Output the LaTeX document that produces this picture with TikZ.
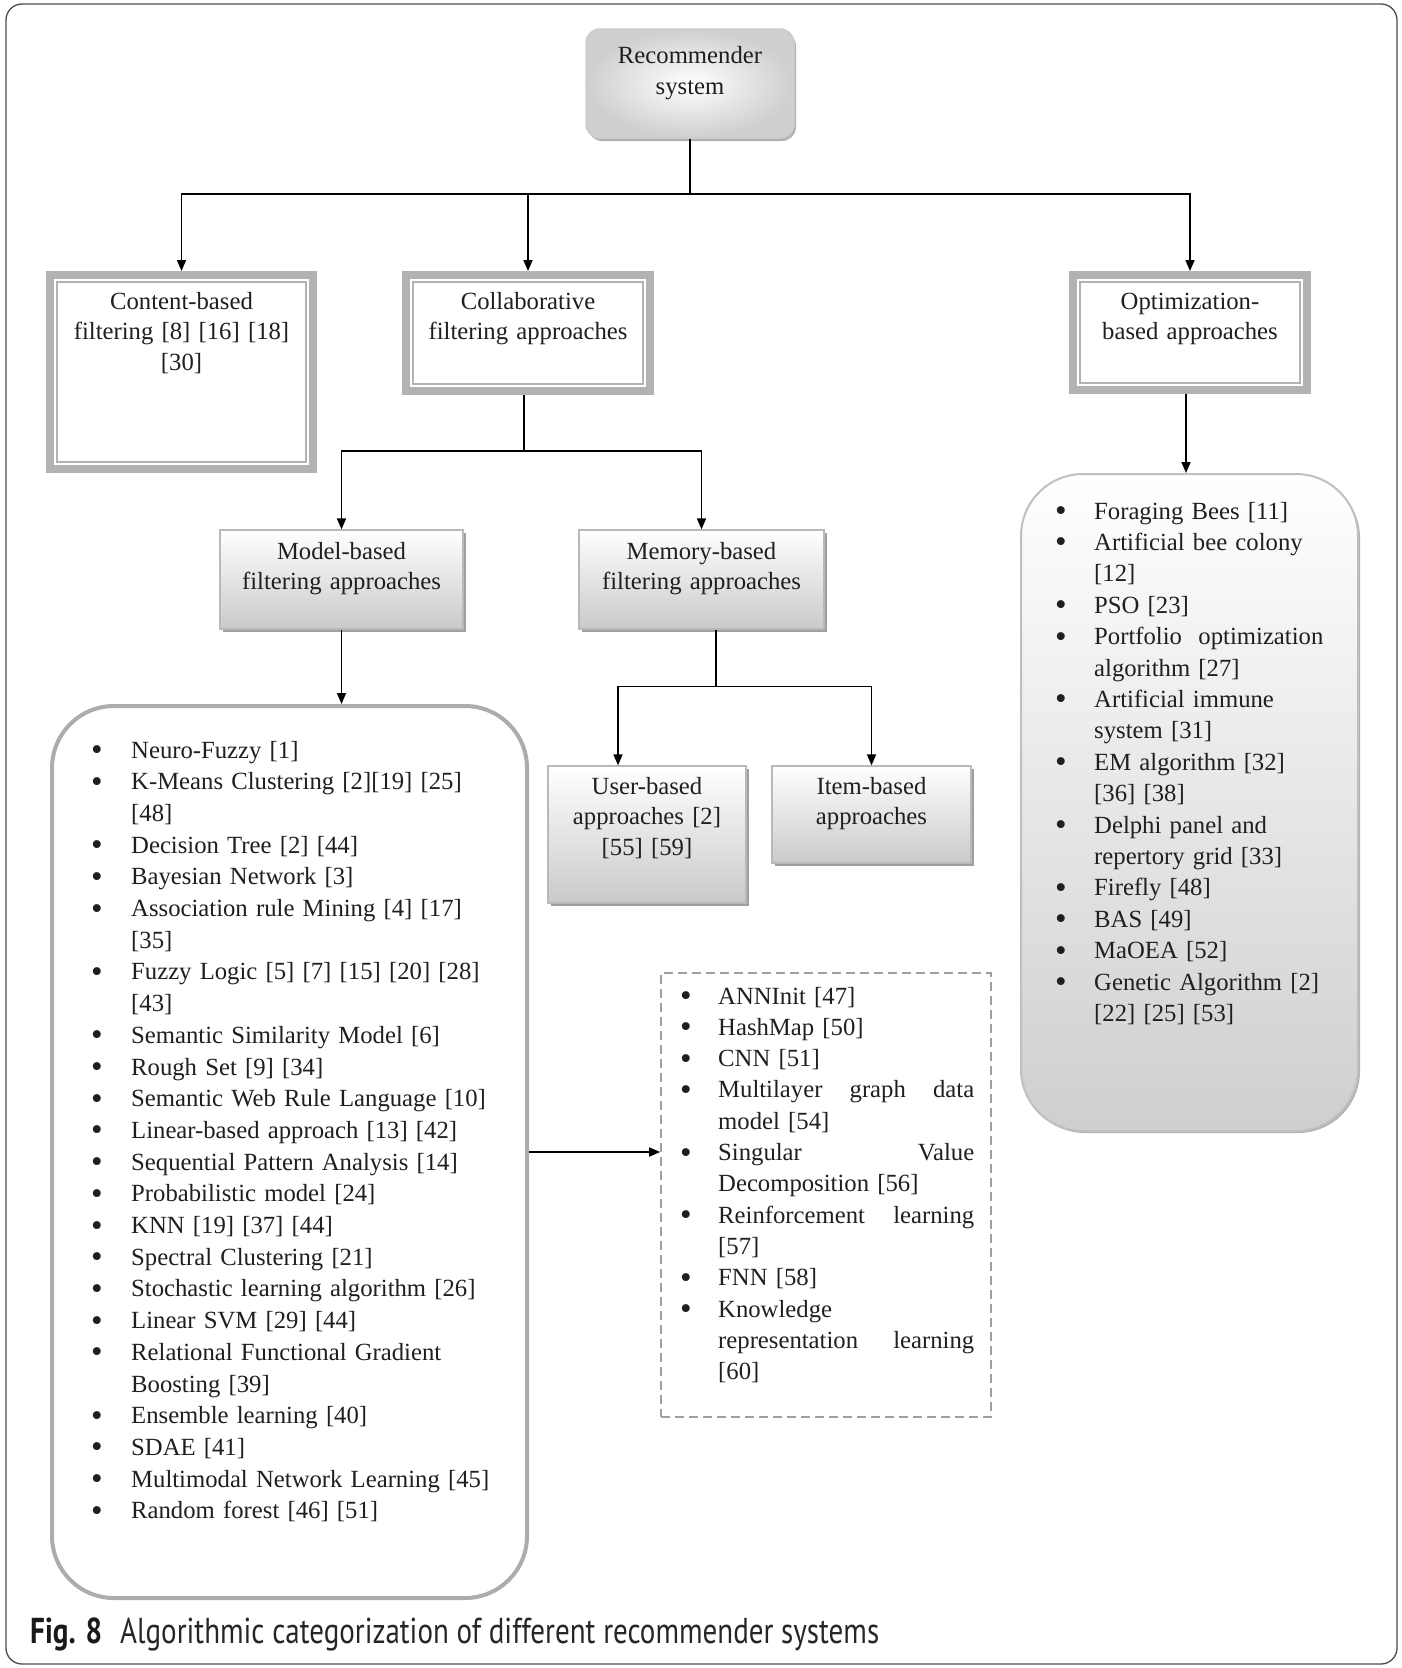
\documentclass[tikz,border=0pt]{standalone}
\usepackage{fontspec}
\usepackage{graphicx}
\setmainfont{Liberation Serif}
\newfontfamily\capfont{PT Sans}
\usetikzlibrary{arrows.meta,shadows}

% list helpers: bullet column, continuation indent, justified line
\newlength\bulw
\setlength\bulw{40pt}
\newcommand\itm{\makebox[\bulw][l]{\raisebox{-2.5pt}{\fontsize{33}{0}\selectfont\textbullet}}}
\newcommand\cont{\hspace*{\bulw}}
\newcommand\jline[1]{\makebox[256pt][l]{#1}}

\begin{document}
\begin{tikzpicture}[x=1pt,y=-1pt,
  conn/.style={line width=1.6pt, draw=black},
  arr/.style={conn, -{Triangle[length=11pt,width=9pt]}},
  txt/.style={font=\fontsize{24.7}{30.5}\selectfont, text=black!88,
    align=center, inner sep=0pt, anchor=base, text width=#1},
  txt/.default=240pt,
  lst/.style={font=\fontsize{24.7}{#1}\selectfont, text=black!88,
    align=left, inner sep=0pt, anchor=base west, text width=400pt},
  framed/.style={draw=gray!60, line width=8pt, fill=white, inner sep=0pt},
  innerline/.style={draw=gray!60, line width=1.6pt},
  graybox/.style={draw=gray!55, line width=1.2pt, inner sep=0pt,
    top color=white, bottom color=gray!42,
    drop shadow={shadow xshift=3pt, shadow yshift=-3pt, fill=gray!75, opacity=1}},
  roundbig/.style={rounded corners=62pt, inner sep=0pt},
]
\useasboundingbox (0,0) rectangle (1401,1668);

% outer frame
\draw[black!70, line width=1.3pt, rounded corners=16pt] (6,4) rectangle (1397,1664);

% root
\node[draw=gray!40, line width=1.5pt, rounded corners=14pt, inner sep=0pt,
  minimum width=208pt, minimum height=109pt,
  inner color=white, outer color=gray!38,
  drop shadow={shadow xshift=2pt, shadow yshift=-3pt, fill=gray!60, opacity=1}]
  (root) at (690,83.5) {};
\node[txt] (roott) at (690,63.5) {Recommender\\system};

% first level
\node[framed, minimum width=263pt, minimum height=194pt] (cbf) at (181.5,372) {};
\draw[innerline] ([shift={(11pt,-11pt)}]cbf.north west) rectangle ([shift={(-11pt,11pt)}]cbf.south east);
\node[txt] (cbft) at (181.5,309) {Content-based\\filtering [8] [16] [18]\\{}[30]};

\node[framed, minimum width=244pt, minimum height=116pt] (cf) at (528,333) {};
\draw[innerline] ([shift={(11pt,-11pt)}]cf.north west) rectangle ([shift={(-11pt,11pt)}]cf.south east);
\node[txt] (cft) at (528,309) {Collaborative\\filtering approaches};

\node[framed, minimum width=234pt, minimum height=115pt] (opt) at (1190,332.5) {};
\draw[innerline] ([shift={(11pt,-11pt)}]opt.north west) rectangle ([shift={(-11pt,11pt)}]opt.south east);
\node[txt] (optt) at (1190,309) {Optimization-\\based approaches};

% collaborative filtering branches
\node[graybox, minimum width=243pt, minimum height=99pt] (mb) at (341.5,579.5) {};
\node[txt] (mbt) at (341.5,559) {Model-based\\filtering approaches};
\node[graybox, minimum width=245pt, minimum height=99pt] (mem) at (701.5,579.5) {};
\node[txt] (memt) at (701.5,559) {Memory-based\\filtering approaches};

\node[graybox, minimum width=198pt, minimum height=137pt] (ub) at (647,834.5) {};
\node[txt] (ubt) at (647,794) {User-based\\approaches [2]\\{}[55] [59]};
\node[graybox, minimum width=199pt, minimum height=97pt] (ib) at (871.5,814.5) {};
\node[txt] (ibt) at (871.5,794) {Item-based\\approaches};

% model-based list
\node[roundbig, draw=gray!65, line width=4pt, fill=white,
  minimum width=475pt, minimum height=892pt] (mbig) at (289.5,1152) {};
\node[lst=31.7pt] (mlist) at (91,758) {%
\itm Neuro-Fuzzy [1]\\
\itm K-Means Clustering [2][19] [25]\\
\cont [48]\\
\itm Decision Tree [2] [44]\\
\itm Bayesian Network [3]\\
\itm Association rule Mining [4] [17]\\
\cont [35]\\
\itm Fuzzy Logic [5] [7] [15] [20] [28]\\
\cont [43]\\
\itm Semantic Similarity Model [6]\\
\itm Rough Set [9] [34]\\
\itm Semantic Web Rule Language [10]\\
\itm Linear-based approach [13] [42]\\
\itm Sequential Pattern Analysis [14]\\
\itm Probabilistic model [24]\\
\itm KNN [19] [37] [44]\\
\itm Spectral Clustering [21]\\
\itm Stochastic learning algorithm [26]\\
\itm Linear SVM [29] [44]\\
\itm Relational Functional Gradient\\
\cont Boosting [39]\\
\itm Ensemble learning [40]\\
\itm SDAE [41]\\
\itm Multimodal Network Learning [45]\\
\itm Random forest [46] [51]};

% further model-based methods
\node[draw=gray!75, line width=1.6pt, dash pattern=on 9pt off 5pt, inner sep=0pt,
  minimum width=330pt, minimum height=444pt] (dl) at (826,1195) {};
\node[lst=31.3pt] (dlist) at (680,1004) {\setlength\bulw{38pt}%
\itm ANNInit [47]\\
\itm HashMap [50]\\
\itm CNN [51]\\
\itm\jline{Multilayer\hfill graph\hfill data}\\
\cont model [54]\\
\itm\jline{Singular\hfill Value}\\
\cont Decomposition [56]\\
\itm\jline{Reinforcement\hfill learning}\\
\cont [57]\\
\itm FNN [58]\\
\itm Knowledge\\
\cont\jline{representation\hfill learning}\\
\cont [60]};

% optimization list
\node[roundbig, draw=gray!50, line width=2pt, top color=white, bottom color=gray!38,
  drop shadow={shadow xshift=2pt, shadow yshift=-2pt, fill=gray!60, opacity=1},
  minimum width=337pt, minimum height=657pt] (optl) at (1189.5,802.5) {};
\node[lst=31.4pt] (olist) at (1055,519) {\setlength\bulw{39pt}%
\itm Foraging Bees [11]\\
\itm Artificial bee colony\\
\cont [12]\\
\itm PSO [23]\\
\itm Portfolio\ \ optimization\\
\cont algorithm [27]\\
\itm Artificial immune\\
\cont system [31]\\
\itm EM algorithm [32]\\
\cont [36] [38]\\
\itm Delphi panel and\\
\cont repertory grid [33]\\
\itm Firefly [48]\\
\itm BAS [49]\\
\itm MaOEA [52]\\
\itm Genetic Algorithm [2]\\
\cont [22] [25] [53]};

% connectors
\draw[arr] (root.south) -- ++(0,55) -| (cbf.north);
\draw[arr] (root.south) -- ++(0,55) -| (cf.north);
\draw[arr] (root.south) -- ++(0,55) -| (opt.north);
\draw[arr] ([xshift=-4pt]cf.south) -- ++(0,56) -| (mb.north);
\draw[arr] ([xshift=-4pt]cf.south) -- ++(0,56) -| (mem.north);
\draw[arr] (mb.south) -- (mb.south |- mbig.north);
\draw[arr] ([xshift=14.5pt]mem.south) -- ++(0,57) -| ([xshift=-29pt]ub.north);
\draw[arr] ([xshift=14.5pt]mem.south) -- ++(0,57) -| (ib.north);
\draw[arr] ([xshift=-4pt]opt.south) -- ([xshift=-4pt]opt.south |- optl.north);
\draw[arr] (mbig.east) -- (dl.west |- mbig.east);

% caption
\node[anchor=base west, inner sep=0pt, text=black!90] (capfig) at (30,1643)
  {\capfont\fontsize{36}{40}\selectfont\resizebox{72pt}{\height}{\bfseries Fig. 8}};
\node[anchor=base west, inner sep=0pt, text=black!85] (captext) at (120,1643)
  {\capfont\fontsize{36}{40}\selectfont\resizebox{759pt}{\height}{Algorithmic categorization of different recommender systems}};
\end{tikzpicture}
\end{document}
